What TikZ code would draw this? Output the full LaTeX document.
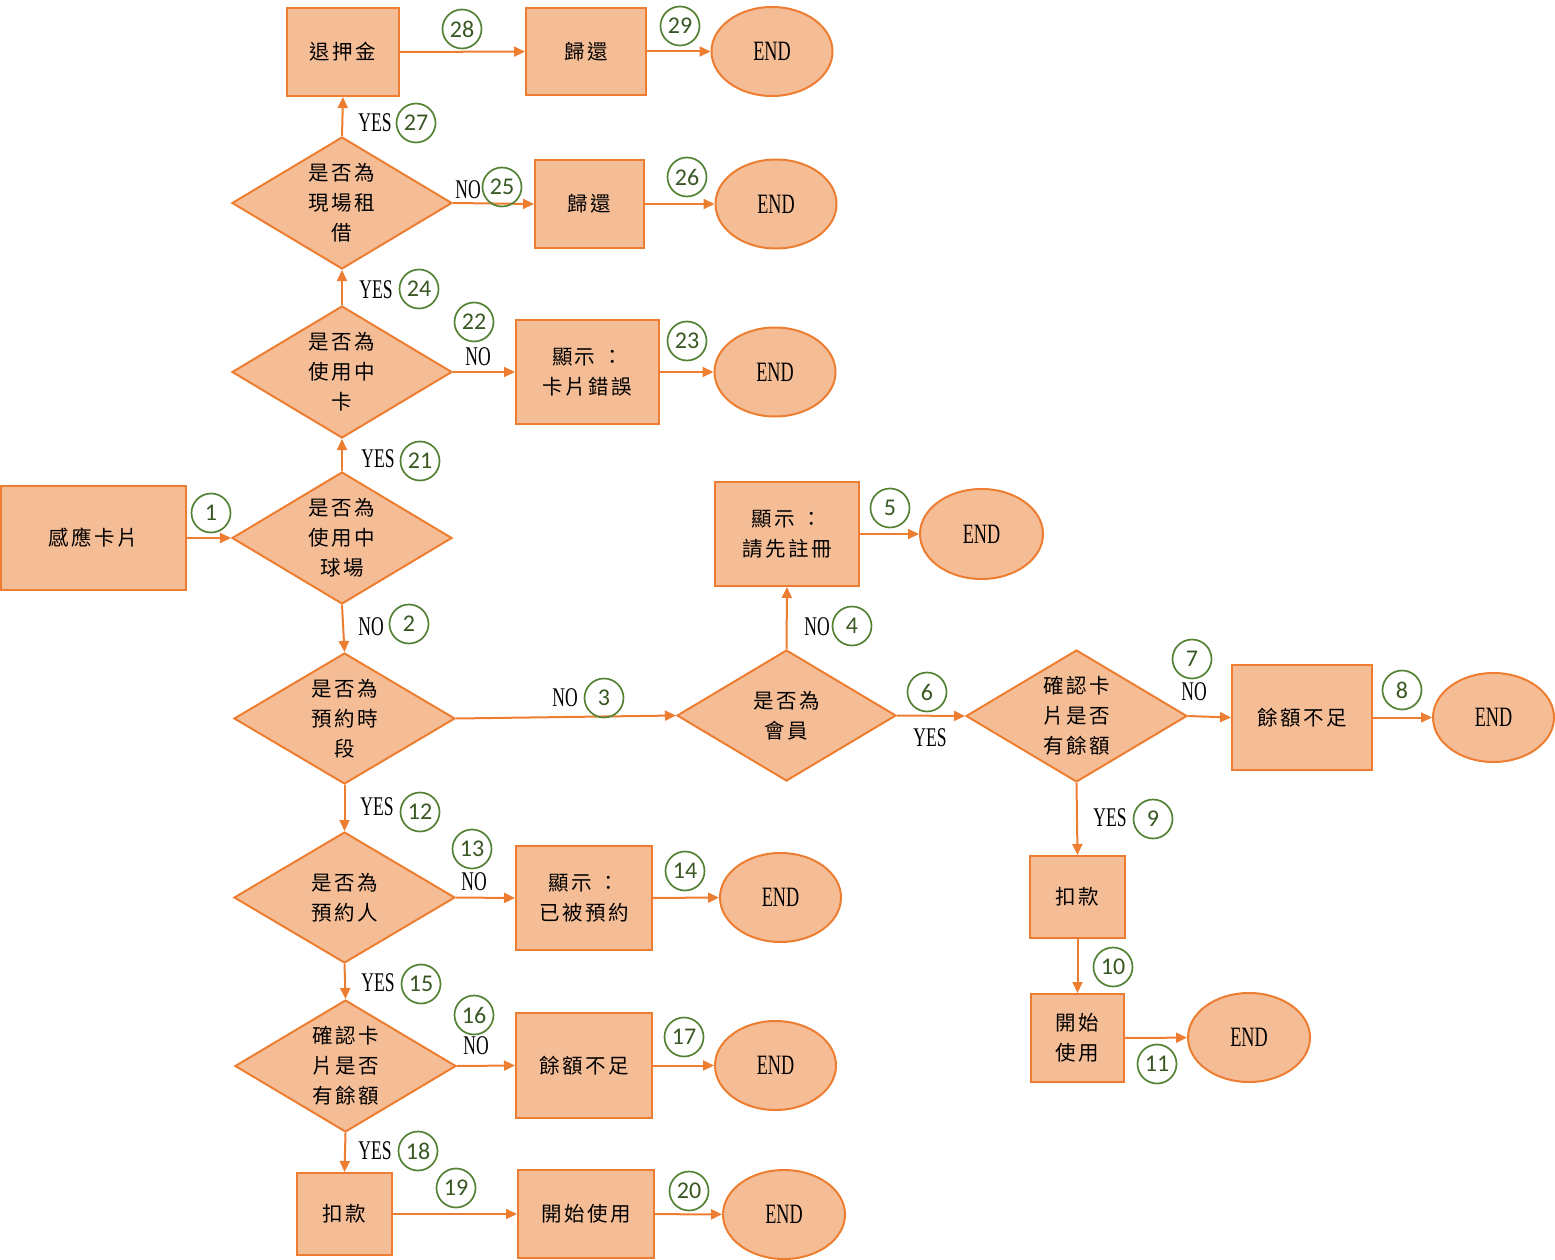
\documentclass[tikz,border=0pt]{standalone}
\usepackage{fontspec}
\setmainfont{Liberation Serif}
\newfontfamily\cjk{Noto Sans CJK TC}[LetterSpace=12]
\newfontfamily\lat{Liberation Serif}[FakeStretch=0.65]
\newfontfamily\numf{Carlito}
\usetikzlibrary{shapes.geometric,arrows.meta}
\definecolor{orl}{HTML}{ED7D31}
\definecolor{fil}{HTML}{F5BD96}
\definecolor{grn}{HTML}{548235}
\definecolor{dgrn}{HTML}{385723}
\tikzset{
  shp/.style={draw=orl, fill=fil, line width=2pt, inner sep=0pt, align=center,
    font=\cjk\fontsize{20.5}{30}\selectfont},
  box/.style={shp, rectangle},
  dia/.style={shp, diamond, aspect=1.667, minimum width=220pt, minimum height=132pt},
  endn/.style={draw=orl, fill=fil, line width=2pt, ellipse, inner sep=0pt,
    minimum width=121pt, minimum height=89pt, font=\lat\fontsize{28}{30}\selectfont},
  num/.style={circle, draw=grn, line width=1.7pt, minimum size=39pt, inner sep=0pt,
    text=dgrn, font=\numf\fontsize{24}{24}\selectfont},
  lbl/.style={inner sep=0pt, font=\lat\fontsize{27}{27}\selectfont},
  arr/.style={draw=orl, line width=2pt, -{Triangle[length=11pt,width=10pt]}}
}
\begin{document}
\begin{tikzpicture}[x=1pt,y=-1pt]
\useasboundingbox (0,0) rectangle (1555,1260);
% nodes
\node[box, minimum width=185pt, minimum height=104pt] (card) at (93.5,538) {感應卡片};
\node[dia] (d1) at (342,538) {是否為\\使用中\\球場};
\node[dia] (d2) at (342,372) {是否為\\使用中\\卡};
\node[dia] (d3) at (342,203) {是否為\\現場租\\借};
\node[box, minimum width=112pt, minimum height=88pt] (dep) at (343,52) {退押金};
\node[box, minimum width=120pt, minimum height=87pt] (ret1) at (586,51.5) {歸還};
\node[endn] (e1) at (772,51.5) {END};
\node[box, minimum width=109pt, minimum height=88pt] (ret2) at (589.5,204) {歸還};
\node[endn] (e2) at (776,204) {END};
\node[box, minimum width=143pt, minimum height=104pt] (err) at (587.5,372) {顯示 ：\\卡片錯誤};
\node[endn] (e3) at (775,372) {END};
\node[dia, minimum width=221pt, minimum height=131pt] (d4) at (344.5,718.5) {是否為\\預約時\\段};
\node[dia, minimum width=219pt, minimum height=131pt] (d5) at (786.5,715.5) {是否為\\會員};
\node[box, minimum width=144pt, minimum height=104pt] (reg) at (787,534) {顯示 ：\\請先註冊};
\node[endn, minimum width=123pt, minimum height=90pt] (e4) at (981.5,534) {END};
\node[dia, minimum width=221pt] (d6) at (1076.5,716) {確認卡\\片是否\\有餘額};
\node[box, minimum width=140pt, minimum height=105pt] (lowR) at (1302,717.5) {餘額不足};
\node[endn] (e5) at (1493.5,717.5) {END};
\node[box, minimum width=95pt, minimum height=82pt] (payR) at (1077.5,897) {扣款};
\node[box, minimum width=93pt, minimum height=88pt] (useR) at (1077.5,1038) {開始\\使用};
\node[endn, minimum width=122pt] (e6) at (1249,1037.5) {END};
\node[dia, minimum width=221pt, minimum height=131pt] (d7) at (344.5,897.5) {是否為\\預約人};
\node[box, minimum width=136pt, minimum height=104pt] (rsv) at (584,898) {顯示 ：\\已被預約};
\node[endn] (e7) at (780.5,897.5) {END};
\node[dia, minimum width=221pt] (d8) at (345.5,1066) {確認卡\\片是否\\有餘額};
\node[box, minimum width=136pt, minimum height=105pt] (lowL) at (584,1065.5) {餘額不足};
\node[endn] (e8) at (775.5,1065.5) {END};
\node[box, minimum width=95pt, minimum height=82pt] (payL) at (344.5,1214) {扣款};
\node[box, minimum width=136pt, minimum height=88pt] (useL) at (586,1214) {開始使用};
\node[endn, minimum width=122pt] (e9) at (784,1214.5) {END};
% connectors
\draw[arr] (card) -- (d1);
\draw[arr] (d1.south) -- (d4.north);
\draw[arr] (d4.east) -- (d5.west);
\draw[arr] (d5.north) -- (reg.south);
\draw[arr] (reg) -- (e4);
\draw[arr] (d5.east) -- (d6.west);
\draw[arr] (d6.east) -- (lowR.west);
\draw[arr] (lowR) -- (e5);
\draw[arr] (d6.south) -- (payR.north);
\draw[arr] (payR) -- (useR);
\draw[arr] (useR) -- (e6);
\draw[arr] (d4.south) -- (d7.north);
\draw[arr] (d7.east) -- (rsv.west);
\draw[arr] (rsv) -- (e7);
\draw[arr] (d7.south) -- (d8.north);
\draw[arr] (d8.east) -- (lowL.west);
\draw[arr] (lowL) -- (e8);
\draw[arr] (d8.south) -- (payL.north);
\draw[arr] (payL) -- (useL);
\draw[arr] (useL) -- (e9);
\draw[arr] (d1.north) -- (d2.south);
\draw[arr] (d2.east) -- (err.west);
\draw[arr] (err) -- (e3);
\draw[arr] (d2.north) -- (d3.south);
\draw[arr] (d3.east) -- (ret2.west);
\draw[arr] (ret2) -- (e2);
\draw[arr] (d3.north) -- (dep.south);
\draw[arr] (dep) -- (ret1);
\draw[arr] (ret1) -- (e1);
% step numbers
\node[num] (n1) at (211,513) {1};
\node[num] (n2) at (409,624) {2};
\node[num] (n3) at (604,698) {3};
\node[num] (n4) at (852,626) {4};
\node[num] (n5) at (890,508) {5};
\node[num] (n6) at (927,692) {6};
\node[num] (n7) at (1192,659) {7};
\node[num] (n8) at (1402,690) {8};
\node[num] (n9) at (1153,819) {9};
\node[num] (n10) at (1113,967) {10};
\node[num] (n11) at (1157,1064) {11};
\node[num] (n12) at (420,812) {12};
\node[num] (n13) at (472,849) {13};
\node[num] (n14) at (685,871) {14};
\node[num] (n15) at (421,984) {15};
\node[num] (n16) at (474,1015) {16};
\node[num] (n17) at (684,1037) {17};
\node[num] (n18) at (418,1151) {18};
\node[num] (n19) at (456,1188) {19};
\node[num] (n20) at (689,1191) {20};
\node[num] (n21) at (420,461) {21};
\node[num] (n22) at (474,322) {22};
\node[num] (n23) at (687,341) {23};
\node[num] (n24) at (419,289) {24};
\node[num] (n25) at (502,187) {25};
\node[num] (n26) at (687,177) {26};
\node[num] (n27) at (416,123) {27};
\node[num] (n28) at (462,29) {28};
\node[num] (n29) at (680,26) {29};
% yes/no labels
\node[lbl] (l2) at (371,627) {NO};
\node[lbl] (l3) at (565,698) {NO};
\node[lbl] (l4) at (817,627) {NO};
\node[lbl] (l6) at (930,738) {YES};
\node[lbl] (l7) at (1194,692) {NO};
\node[lbl] (l9) at (1110,818) {YES};
\node[lbl] (l12) at (377,807) {YES};
\node[lbl] (l13) at (474,882) {NO};
\node[lbl] (l15) at (378,983) {YES};
\node[lbl] (l16) at (476,1046) {NO};
\node[lbl] (l18) at (375,1151) {YES};
\node[lbl] (l21) at (378,459) {YES};
\node[lbl] (l22) at (478,357) {NO};
\node[lbl] (l24) at (376,290) {YES};
\node[lbl] (l25) at (468,190) {NO};
\node[lbl] (l27) at (375,123) {YES};
\end{tikzpicture}
\end{document}
